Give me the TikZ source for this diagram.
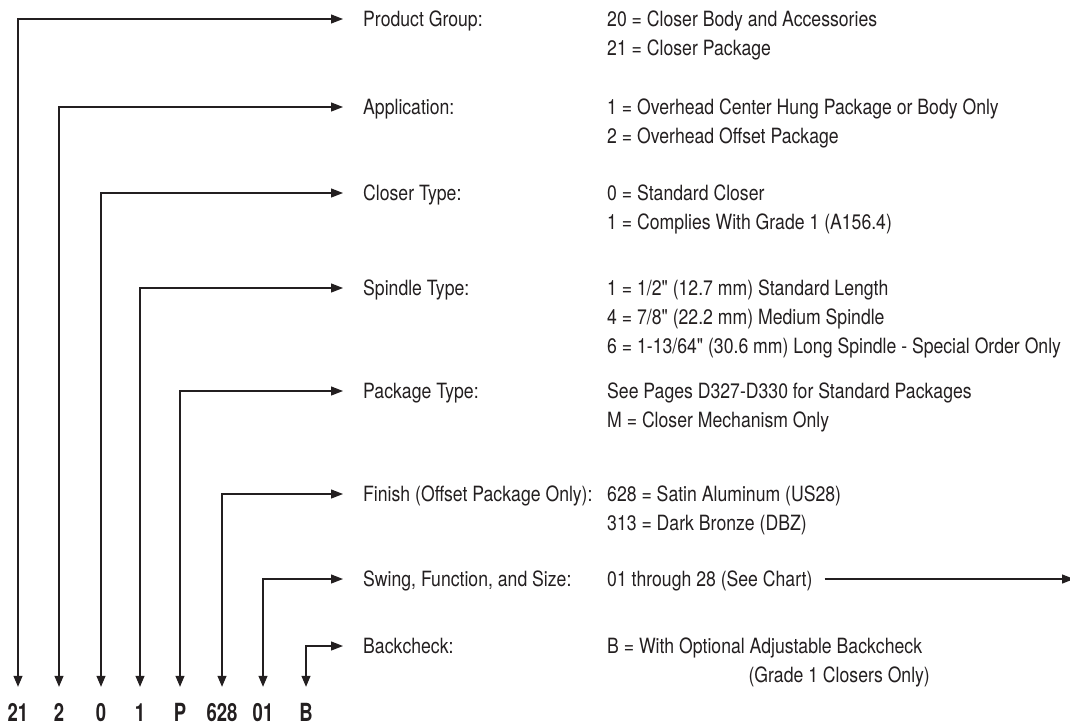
\documentclass[tikz,border=0pt]{standalone}
\usepackage{fontspec}
\setmainfont{TeX Gyre Heros}[FakeStretch=0.84, Ligatures=TeXOff]
\newfontfamily\codefont{TeX Gyre Heros}[FakeStretch=0.74]
\usetikzlibrary{arrows.meta}
\definecolor{inkgray}{RGB}{35,31,32}

\begin{document}
\begin{tikzpicture}[x=1pt, y=-1pt,
    lbl/.style={anchor=west, inner sep=0pt, text height=15pt, text depth=0pt, font=\fontsize{21}{25}\selectfont, text=inkgray},
    val/.style={lbl},
    code/.style={inner sep=0pt, text height=18pt, text depth=0pt, font=\fontsize{25}{29}\selectfont\codefont\bfseries, text=inkgray},
    wire/.style={line width=1.2pt, draw=inkgray},
    arr/.style={wire, {Triangle[length=11pt,width=9pt]}-{Triangle[length=12pt,width=9pt]}, shorten <=16pt, shorten >=20pt},
    tail/.style={wire, -{Triangle[length=12pt,width=9pt]}, shorten <=12pt}
]
\useasboundingbox (0,0) rectangle (1070,726);

% order code
\node[code] (c21) at (18,712) {21};
\node[code] (c2) at (59,712) {2};
\node[code] (c0) at (101,712) {0};
\node[code] (c1) at (140,712) {1};
\node[code] (cP) at (180,712) {P};
\node[code] (c628) at (222,712) {628};
\node[code] (c01) at (263,712) {01};
\node[code] (cB) at (306,712) {B};

% field names
\node[lbl] (grp) at (363,19) {Product Group:};
\node[lbl] (app) at (363,107) {Application:};
\node[lbl] (typ) at (363,193) {Closer Type:};
\node[lbl] (spd) at (363,288) {Spindle Type:};
\node[lbl] (pkg) at (363,391) {Package Type:};
\node[lbl] (fin) at (363,494) {Finish (Offset Package Only):};
\node[lbl] (swg) at (363,579) {Swing, Function, and Size:};
\node[lbl] (bck) at (363,646) {Backcheck:};

% options
\node[val] (grp1) at (607,19) {20 = Closer Body and Accessories};
\node[val] (grp2) at (607,48) {21 = Closer Package};
\node[val] (app1) at (607,107) {1 = Overhead Center Hung Package or Body Only};
\node[val] (app2) at (607,136) {2 = Overhead Offset Package};
\node[val] (typ1) at (607,193) {0 = Standard Closer};
\node[val] (typ2) at (607,222) {1 = Complies With Grade 1 (A156.4)};
\node[val] (spd1) at (607,288) {1 = 1/2" (12.7 mm) Standard Length};
\node[val] (spd2) at (607,317) {4 = 7/8" (22.2 mm) Medium Spindle};
\node[val] (spd3) at (607,346) {6 = 1-13/64" (30.6 mm) Long Spindle - Special Order Only};
\node[val] (pkg1) at (607,391) {See Pages D327-D330 for Standard Packages};
\node[val] (pkg2) at (607,420) {M = Closer Mechanism Only};
\node[val] (fin1) at (607,494) {628 = Satin Aluminum (US28)};
\node[val] (fin2) at (607,523) {313 = Dark Bronze (DBZ)};
\node[val] (swg1) at (607,579) {01 through 28 (See Chart)};
\node[val] (bck1) at (607,646) {B = With Optional Adjustable Backcheck};
\node[val, anchor=east] (bck2) at (930,675) {(Grade 1 Closers Only)};

\coordinate (chart) at (1074,579);

\draw[arr] (c21.north) |- (grp.west);
\draw[arr] (c2.north) |- (app.west);
\draw[arr] (c0.north) |- (typ.west);
\draw[arr] (c1.north) |- (spd.west);
\draw[arr] (cP.north) |- (pkg.west);
\draw[arr] (c628.north) |- (fin.west);
\draw[arr] (c01.north) |- (swg.west);
\draw[arr] (cB.north) |- (bck.west);
\draw[tail] (swg1.east) -- (chart);
\end{tikzpicture}
\end{document}
